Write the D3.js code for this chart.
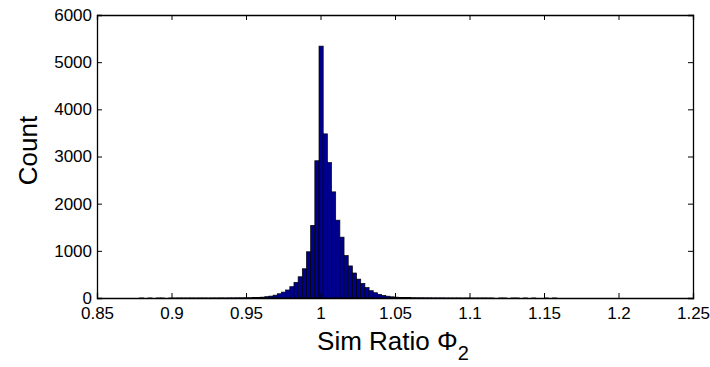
<!DOCTYPE html>
<html>
<head>
<meta charset="utf-8">
<script src="https://cdn.jsdelivr.net/npm/d3@7"></script>
<style>
  body { margin: 0; background: #fff; }
  text { font-family: "Liberation Sans", Arial, sans-serif; fill: #000; }
</style>
</head>
<body>
<svg width="710" height="367"></svg>
<script>
// histogram: 100 equal bins between binMin and binMax
const binMin = 0.8786, binMax = 1.1586;
const counts = [
  1, 0, 1, 0, 1, 1, 0, 1, 1, 2,
  1, 1, 2, 1, 2, 2, 1, 2, 2, 3,
  2, 3, 3, 4, 4, 5, 6, 8, 12, 18,
  28, 40, 60, 90, 125, 170, 240, 330, 450, 620,
  980, 1540, 2910, 5340, 3480, 2870, 2250, 1650, 1290, 900,
  680, 530, 400, 310, 220, 155, 112, 78, 55, 38,
  25, 18, 13, 10, 8, 6, 5, 5, 4, 4,
  3, 3, 3, 2, 2, 2, 2, 1, 2, 1,
  1, 1, 2, 1, 1, 0, 1, 1, 0, 1,
  1, 0, 1, 0, 1, 0, 0, 1, 0, 1
];
const xTicks = [0.85, 0.9, 0.95, 1, 1.05, 1.1, 1.15, 1.2, 1.25];
const yTicks = [0, 1000, 2000, 3000, 4000, 5000, 6000];

const svg = d3.select("svg"),
    margin = {top: 15, right: 17, bottom: 69, left: 97},
    width = +svg.attr("width") - margin.left - margin.right,
    height = +svg.attr("height") - margin.top - margin.bottom;

const binW = (binMax - binMin) / counts.length;
const bins = counts.map((c, i) => ({x0: binMin + i * binW, x1: binMin + (i + 1) * binW, n: c}));

const x = d3.scaleLinear().domain([0.85, 1.25]).range([0, width]);
const y = d3.scaleLinear().domain([0, 6000]).range([height, 0]);

const g = svg.append("g").attr("transform", `translate(${margin.left},${margin.top})`);

g.append("g").selectAll("rect")
    .data(bins)
    .enter().append("rect")
    .attr("x", d => x(d.x0))
    .attr("y", d => y(d.n))
    .attr("width", d => x(d.x1) - x(d.x0))
    .attr("height", d => y(0) - y(d.n))
    .attr("fill", "#00008f")
    .attr("stroke", "#000")
    .attr("stroke-width", 0.7);

// matlab style: ticks point inward, on all four sides
const tl = 5;
const fmt = d => String(d);

const xb = g.append("g").attr("transform", `translate(0,${height})`)
    .call(d3.axisBottom(x).tickValues(xTicks).tickFormat(fmt).tickSize(-tl).tickPadding(9));
const xt = g.append("g")
    .call(d3.axisTop(x).tickValues(xTicks).tickFormat("").tickSize(-tl));
const yl = g.append("g")
    .call(d3.axisLeft(y).tickValues(yTicks).tickFormat(fmt).tickSize(-tl).tickPadding(5));
const yr = g.append("g").attr("transform", `translate(${width},0)`)
    .call(d3.axisRight(y).tickValues(yTicks).tickFormat("").tickSize(-tl));

[xb, xt, yl, yr].forEach(a => {
    a.select(".domain").attr("stroke", "#000").attr("stroke-width", 1.3);
    a.selectAll(".tick line").attr("stroke", "#000");
    a.selectAll("text").attr("font-size", 17).attr("font-family", "Liberation Sans, Arial, sans-serif").attr("fill", "#000");
});

// axis labels
svg.append("text")
    .attr("transform", `translate(37,${margin.top + height / 2 - 6}) rotate(-90)`)
    .attr("text-anchor", "middle")
    .attr("font-size", 26)
    .text("Count");

const xl = svg.append("text")
    .attr("x", margin.left + width / 2 - 2)
    .attr("y", 350)
    .attr("text-anchor", "middle")
    .attr("font-size", 26);
xl.append("tspan").text("Sim Ratio Φ");
xl.append("tspan").attr("font-size", 20).attr("dy", 10).text("2");
</script>
</body>
</html>
